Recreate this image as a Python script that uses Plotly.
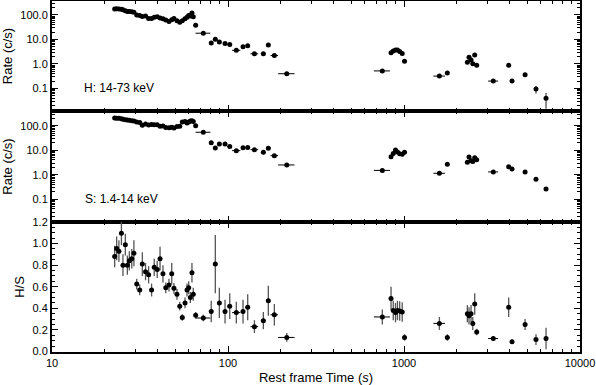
import plotly.graph_objects as go
from plotly.subplots import make_subplots

# rest-frame time (s)
time = [22.7, 23.3, 24.0, 24.8, 25.3, 26.1, 26.8, 27.5, 28.4, 29.2,
        30.3, 31.5, 32.6, 34.0, 35.4, 36.8, 38.1, 39.6, 41.1, 42.7,
        44.3, 46.2, 47.9, 49.3, 51.3, 53.2, 55.0, 57.0, 58.5, 59.8,
        61.1, 62.4, 63.5, 65.5, 72.4, 80.3, 84.7, 89.3, 96.2, 102.3,
        111.5, 121.7, 129.4, 141.3, 158.8, 169.5, 183.4, 215.7,
        753, 844, 869, 895, 918, 945, 977, 1007, 1589, 1763,
        2291, 2341, 2404, 2460, 2522, 2589, 3217, 3934, 4110, 4875, 5623, 6412]

time_err = [0, 0, 0, 0, 0, 0, 0, 0, 0, 0,
            0, 0, 0, 0, 0, 0, 0, 0, 0, 0,
            0, 0, 0, 0, 0, 0, 0, 0, 0, 0,
            0, 0, 0, 1.5, 7, 2, 2, 2, 2, 3,
            6, 3, 3, 7, 5, 4, 9, 23,
            79, 0, 0, 0, 0, 0, 0, 0, 120, 30,
            0, 0, 0, 0, 0, 0, 210, 0, 0, 0, 0, 0]

# hard band 14-73 keV (c/s)
rate_h = [176, 180, 176, 170, 165, 150, 140, 137, 135, 128,
          100, 95, 86, 90, 72, 72, 80, 85, 75, 70,
          62, 54, 64, 72, 58, 50, 58, 70, 80, 95,
          90, 120, 85, 38, 18, 7.1, 10.2, 7.9, 6.8, 6.2,
          3.6, 5.0, 5.6, 2.6, 2.6, 6.0, 2.2, 0.40,
          0.52, 2.9, 3.4, 3.7, 3.7, 3.2, 2.7, 1.3, 0.32, 0.43,
          1.17, 1.9, 1.45, 1.02, 2.3, 0.89, 0.20, 0.89, 0.20, 0.36, 0.095, 0.040]

rate_h_err = [0] * 34 + [1.5, 0.8, 1.0, 0.8, 0.7, 0.6, 0.4, 0.5, 0.5, 0.3,
                         0.3, 0.6, 0.25, 0.05,
                         0.05, 0.3, 0.3, 0.3, 0.3, 0.3, 0.3, 0.1, 0.04, 0.05,
                         0.15, 0.2, 0.15, 0.1, 0.2, 0.08, 0.02, 0.08, 0.02, 0.06, 0.032, 0.025]

# soft band 1.4-14 keV (c/s)
rate_s = [205, 200, 200, 190, 185, 175, 170, 165, 160, 155,
          140, 135, 105, 118, 108, 112, 110, 110, 95, 97,
          85, 82, 86, 80, 92, 95, 140, 150, 130, 140,
          155, 160, 150, 100, 54, 20, 12.3, 18, 18, 14,
          9.6, 12.6, 13, 10.5, 8.2, 12, 6.0, 2.5,
          1.5, 5.4, 7.4, 10.2, 8.5, 7.2, 6.8, 8.2, 1.14, 2.7,
          3.2, 5.3, 3.7, 3.5, 4.9, 4.1, 1.3, 2.1, 1.7, 1.3, 0.66, 0.26]

# hardness ratio H/S
ratio = [0.88, 0.955, 0.93, 1.095, 0.80, 0.99, 0.80, 0.84, 0.86, 0.91,
         0.625, 0.57, 0.81, 0.74, 0.71, 0.57, 0.78, 0.76, 0.86, 0.72,
         0.59, 0.615, 0.72, 0.585, 0.53, 0.42, 0.315, 0.45, 0.57, 0.59,
         0.50, 0.73, 0.53, 0.335, 0.31, 0.37, 0.81, 0.45, 0.37, 0.42,
         0.36, 0.37, 0.41, 0.23, 0.285, 0.47, 0.34, 0.13,
         0.32, 0.49, 0.38, 0.36, 0.38, 0.375, 0.365, 0.13, 0.26, 0.13,
         0.35, 0.33, 0.35, 0.26, 0.44, 0.18, 0.12, 0.41, 0.09, 0.25, 0.11, 0.12]

ratio_err = [0.10, 0.11, 0.10, 0.11, 0.10, 0.10, 0.09, 0.09, 0.09, 0.12,
             0.05, 0.05, 0.11, 0.08, 0.08, 0.06, 0.08, 0.08, 0.11, 0.08,
             0.05, 0.06, 0.10, 0.05, 0.05, 0.04, 0.03, 0.05, 0.06, 0.06,
             0.05, 0.09, 0.06, 0.03, 0.03, 0.10, 0.27, 0.14, 0.11, 0.12,
             0.10, 0.11, 0.12, 0.06, 0.08, 0.14, 0.10, 0.04,
             0.07, 0.11, 0.09, 0.09, 0.09, 0.09, 0.09, 0.03, 0.06, 0.03,
             0.08, 0.08, 0.08, 0.06, 0.10, 0.03, 0.02, 0.09, 0.02, 0.05, 0.05, 0.10]

rate_ticks = [0.1, 1, 10, 100]
rate_labels = ["0.1", "1.0", "10.0", "100.0"]
time_ticks = [10, 100, 1000, 10000]
time_labels = ["10", "100", "1000", "10000"]

FONT = "Liberation Sans, Arial, Helvetica, sans-serif"

fig = make_subplots(rows=3, cols=1, shared_xaxes=True, vertical_spacing=0)

def add_series(y, yerr, row):
    fig.add_trace(go.Scatter(
        x=time, y=y, mode="markers",
        marker=dict(color="black", size=5),
        error_x=dict(type="data", array=time_err, color="black", thickness=1, width=0),
        error_y=dict(type="data", array=yerr, color="#555555", thickness=1.3, width=0),
        showlegend=False), row=row, col=1)

add_series(rate_h, rate_h_err, 1)
add_series(rate_s, [0] * len(rate_s), 2)
add_series(ratio, ratio_err, 3)

frame = dict(showline=True, linewidth=2, linecolor="black", mirror="ticks",
             ticks="inside", tickcolor="black", tickwidth=1, showgrid=False,
             zeroline=False, automargin=False)

for r in (1, 2, 3):
    fig.update_xaxes(type="log", range=[1, 4], tickvals=time_ticks, ticktext=time_labels,
                     ticklen=6, minor=dict(ticks="inside", ticklen=3, dtick="D1",
                                           tickcolor="black", showgrid=False),
                     showticklabels=(r == 3), row=r, col=1, **frame)

fig.update_xaxes(title_text="Rest frame Time (<i>s</i>)", title_standoff=6, row=3, col=1)

fig.update_yaxes(type="log", range=[-1.92, 2.57], tickvals=rate_ticks, ticktext=rate_labels,
                 ticklen=6, minor=dict(ticks="inside", ticklen=3, dtick="D1",
                                       tickcolor="black", showgrid=False),
                 title_text="Rate (c/s)", title_standoff=5, row=1, col=1, **frame)
fig.update_yaxes(type="log", range=[-1.93, 2.60], tickvals=rate_ticks, ticktext=rate_labels,
                 ticklen=6, minor=dict(ticks="inside", ticklen=3, dtick="D1",
                                       tickcolor="black", showgrid=False),
                 title_text="Rate (c/s)", title_standoff=5, row=2, col=1, **frame)
fig.update_yaxes(range=[-0.005, 1.2], tick0=0, dtick=0.2, tickformat=".1f",
                 ticklen=6, minor=dict(ticks="inside", ticklen=3, dtick=0.05,
                                       tickcolor="black", showgrid=False),
                 title_text="H/S", title_standoff=5, row=3, col=1, **frame)

# panel heights: 110, 111, 130 px of 351
fig.update_layout(
    yaxis=dict(domain=[241 / 351, 1]),
    yaxis2=dict(domain=[130 / 351, 241 / 351]),
    yaxis3=dict(domain=[0, 130 / 351]),
)

fig.add_annotation(text="H: 14-73 keV", x=1.17, y=-0.98, xref="x", yref="y",
                   xanchor="left", showarrow=False, font=dict(size=12))
fig.add_annotation(text="S: 1.4-14 keV", x=1.176, y=-0.99, xref="x2", yref="y2",
                   xanchor="left", showarrow=False, font=dict(size=12))

fig.update_layout(
    width=596, height=385,
    margin=dict(l=52, r=16, t=1, b=33),
    plot_bgcolor="white", paper_bgcolor="white",
    font=dict(family=FONT, size=11, color="black"),
)

fig.write_html("out.html", config={"displayModeBar": False},
               post_script="document.body.style.margin='0';")
